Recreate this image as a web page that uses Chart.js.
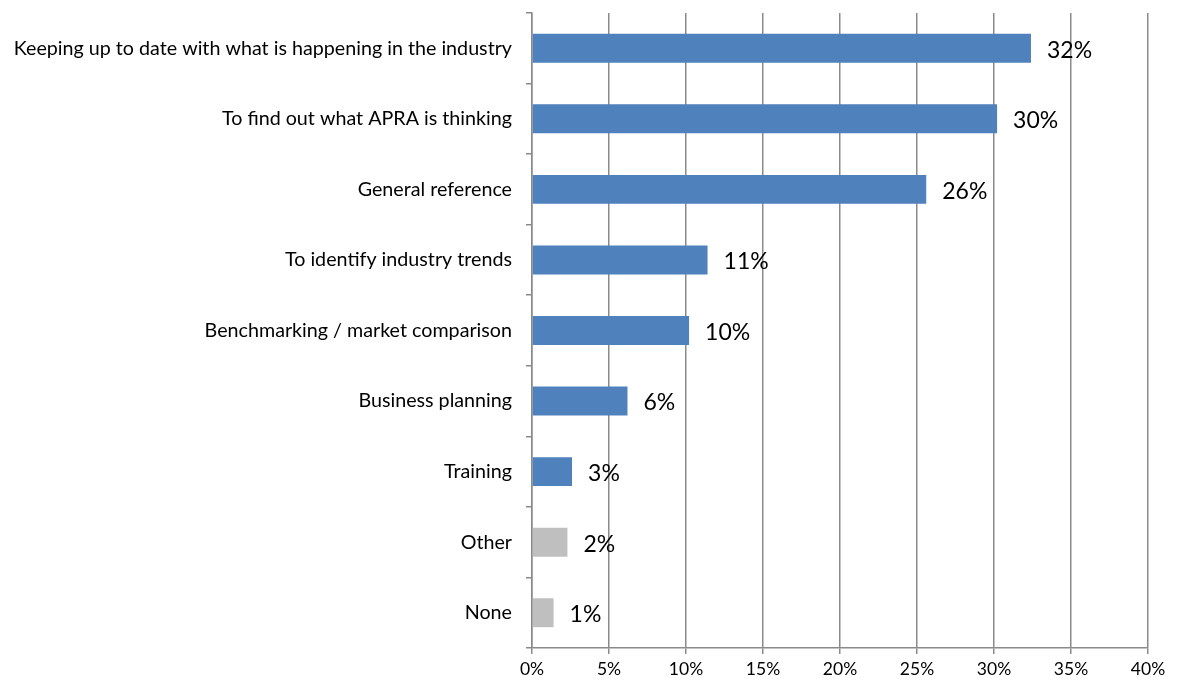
<!DOCTYPE html>
<html>
<head>
<meta charset="utf-8">
<script src="https://cdn.jsdelivr.net/npm/chart.js@4/dist/chart.umd.min.js"></script>
<style>
  html, body { margin: 0; padding: 0; background: #fff; }
  #wrap { width: 1177px; height: 686px; }
</style>
</head>
<body>
<div id="wrap"><canvas id="chart" width="1177" height="686"></canvas></div>
<script>
  'use strict';

  var reasons = [
    'Keeping up to date with what is happening in the industry',
    'To find out what APRA is thinking',
    'General reference',
    'To identify industry trends',
    'Benchmarking / market comparison',
    'Business planning',
    'Training',
    'Other',
    'None'
  ];
  var shares = [32.4, 30.2, 25.6, 11.4, 10.2, 6.2, 2.6, 2.3, 1.4];
  var barColors = ['#4F81BD', '#4F81BD', '#4F81BD', '#4F81BD', '#4F81BD',
    '#4F81BD', '#4F81BD', '#BFBFBF', '#BFBFBF'];
  var pctTicks = [0, 5, 10, 15, 20, 25, 30, 35, 40];

  var lineGray = '#8a8a8a';
  var font = 'Lato, "Open Sans", sans-serif';

  // value labels just right of each bar end
  var valueLabels = {
    id: 'valueLabels',
    afterDatasetsDraw: function (chart) {
      var ctx = chart.ctx, meta = chart.getDatasetMeta(0);
      ctx.save();
      ctx.font = '23px ' + font;
      ctx.fillStyle = '#000';
      ctx.textAlign = 'left';
      ctx.textBaseline = 'middle';
      meta.data.forEach(function (bar, i) {
        ctx.fillText(Math.round(shares[i]) + '%', bar.x + 16, bar.y + 2);
      });
      ctx.restore();
    }
  };

  new Chart(document.getElementById('chart'), {
    type: 'bar',
    data: {
      labels: reasons,
      datasets: [{
        data: shares,
        backgroundColor: barColors,
        categoryPercentage: 1,
        barPercentage: 0.41
      }]
    },
    options: {
      indexAxis: 'y',
      responsive: false,
      animation: false,
      layout: { padding: { top: 13, right: 29, left: 0, bottom: 0 } },
      plugins: { legend: { display: false }, tooltip: { enabled: false } },
      scales: {
        x: {
          min: 0,
          max: 40,
          afterBuildTicks: function (scale) {
            scale.ticks = pctTicks.map(function (v) { return { value: v }; });
          },
          afterFit: function (scale) { scale.height = 38; },
          grid: { color: lineGray, lineWidth: 1.5, tickLength: 6, drawTicks: true },
          border: { color: lineGray, width: 1.5 },
          ticks: {
            padding: 5,
            color: '#000',
            font: { family: font, size: 17.5 },
            callback: function (v) { return v + '%'; }
          }
        },
        y: {
          afterFit: function (scale) {
            scale.width = 532;
            scale.paddingTop = 0;
            scale.paddingBottom = 0;
          },
          grid: { offset: true, drawOnChartArea: false, color: lineGray, lineWidth: 1.5, tickLength: 6 },
          border: { color: lineGray, width: 1.5 },
          ticks: {
            padding: 14,
            color: '#000',
            font: { family: font, size: 19.7 }
          }
        }
      }
    },
    plugins: [valueLabels]
  });
</script>
</body>
</html>
